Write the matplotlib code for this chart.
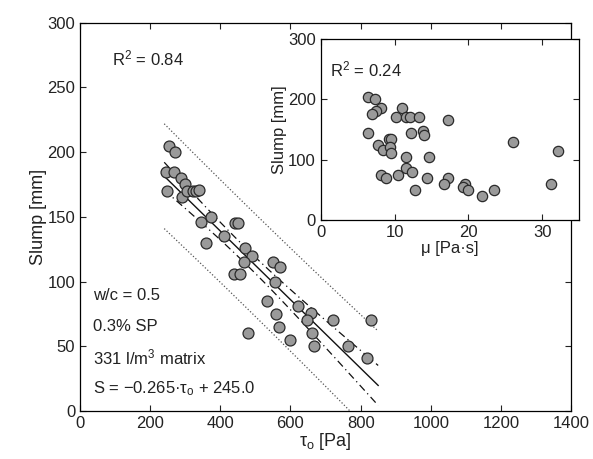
import matplotlib
matplotlib.use("Agg")
import matplotlib.pyplot as plt
import numpy as np

# main panel: yield stress vs slump
tau_main = [245, 255, 270, 248, 268, 288, 292, 300, 305, 322, 332, 340, 345, 358, 372,
            410, 443, 450, 471, 489, 467, 549, 570, 440, 455, 556, 532, 622, 658, 560,
            648, 721, 830, 478, 662, 568, 600, 667, 764, 818]
slump_main = [185, 205, 200, 170, 185, 180, 165, 175, 170, 170, 170, 171, 146, 130, 150,
              135, 145, 145, 126, 120, 115, 115, 111, 106, 106, 100, 85, 81, 76, 75,
              70, 70, 70, 60, 60, 65, 55, 50, 50, 41]

# inset: plastic viscosity vs slump
mu_inset = [6.4, 7.3, 8.1, 7.45, 7.0, 11.0, 10.25, 11.6, 12.1, 13.3, 17.3, 6.4, 12.2, 13.9,
            14.0, 9.2, 9.55, 7.8, 8.4, 9.4, 9.5, 11.5, 14.7, 26.0, 32.1, 8.2, 8.8, 10.4,
            11.6, 12.3, 14.4, 12.8, 17.3, 16.75, 19.5, 19.2, 19.9, 21.8, 23.4, 31.2]
slump_inset = [204, 200, 185, 181, 176, 185, 170, 170, 170, 170, 166, 145, 145, 148,
               141, 135, 135, 125, 116, 121.5, 111.5, 105, 105, 130, 115, 75, 70, 75,
               86, 80, 70, 50, 70, 60, 60, 55, 50, 40, 50, 60]

slope, intercept = -0.265, 245.0
t95 = 2.024

plt.rcParams["font.family"] = ["Liberation Sans", "DejaVu Sans"]
plt.rcParams["mathtext.fontset"] = "custom"
plt.rcParams["mathtext.rm"] = "Liberation Sans"
plt.rcParams["mathtext.it"] = "Liberation Sans:italic"
plt.rcParams["xtick.direction"] = "in"
plt.rcParams["ytick.direction"] = "in"
plt.rcParams["axes.linewidth"] = 0.9

face = "#9a9a9a"
edge = "#2a2a2a"
txt = "#222222"
dashdot = (0, (6, 3, 1, 3))

fig = plt.figure(figsize=(5.93, 4.59), dpi=100)
ax = fig.add_axes([0.135, 0.1046, 0.828, 0.846])

x = np.array(tau_main, float)
y = np.array(slump_main, float)
n = len(x)
res = y - (slope * x + intercept)
s = np.sqrt(np.sum(res ** 2) / (n - 2))
xm = x.mean()
sxx = np.sum((x - xm) ** 2)
xl = np.linspace(x.min() - 5, x.max() + 20, 200)
yl = slope * xl + intercept
ci = t95 * s * np.sqrt(1 / n + (xl - xm) ** 2 / sxx)
pi = t95 * s * np.sqrt(1 + 1 / n + (xl - xm) ** 2 / sxx)

ax.plot(xl, yl, color="#111111", lw=1.0)
ax.plot(xl, yl + ci, color="#111111", lw=0.9, ls=dashdot)
ax.plot(xl, yl - ci, color="#111111", lw=0.9, ls=dashdot)
ax.plot(xl, yl + pi, color="#555555", lw=0.9, ls=":")
ax.plot(xl, yl - pi, color="#555555", lw=0.9, ls=":")
ax.scatter(x, y, s=62, facecolor=face, edgecolor=edge, linewidth=0.9, zorder=3)

ax.set_xlim(0, 1400)
ax.set_ylim(0, 300)
ax.set_xticks(range(0, 1401, 200))
ax.set_yticks(range(0, 301, 50))
ax.tick_params(labelsize=12, top=True, right=True, length=4, colors=txt, labelcolor=txt)
ax.set_xlabel(r"τ$_{\rm o}$ [Pa]", fontsize=13, color=txt, labelpad=0)
ax.set_ylabel("Slump [mm]", fontsize=13, color=txt, labelpad=0)

ax.text(90, 272, r"R$^2$ = 0.84", fontsize=12, color=txt, va="center")
notes = ["w/c = 0.5", "0.3% SP", r"331 l/m$^3$ matrix",
         r"S = $-$0.265·τ$_{\rm o}$ + 245.0"]
for i, line in enumerate(notes):
    ax.text(38, 89 - i * 24, line, fontsize=12, color=txt, va="center")

ins = fig.add_axes([0.541, 0.5207, 0.4356, 0.3944])
ins.scatter(mu_inset, slump_inset, s=55, facecolor=face, edgecolor=edge, linewidth=0.9, zorder=3)
ins.set_xlim(0, 35)
ins.set_ylim(0, 300)
ins.set_xticks([0, 10, 20, 30])
ins.set_yticks([0, 100, 200, 300])
ins.tick_params(labelsize=12, top=True, right=True, length=4, colors=txt, labelcolor=txt)
ins.set_xlabel("μ [Pa·s]", fontsize=12, color=txt, labelpad=1)
ins.set_ylabel("Slump [mm]", fontsize=12, color=txt, labelpad=1)
ins.text(1.2, 250, r"R$^2$ = 0.24", fontsize=12, color=txt, va="center")

fig.savefig("out.png", dpi=100)
plt.close(fig)
